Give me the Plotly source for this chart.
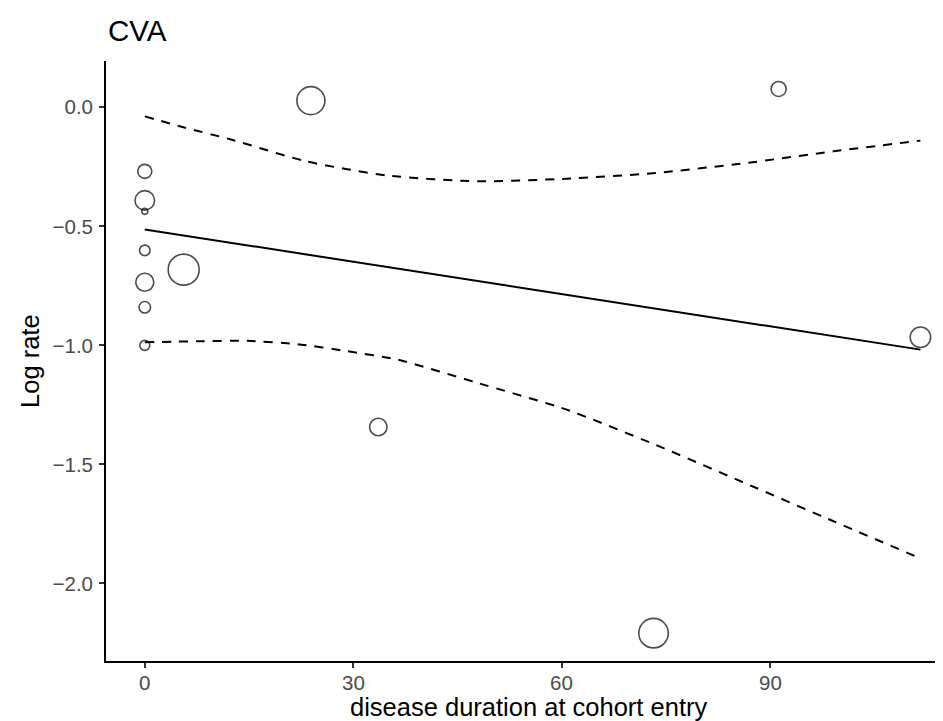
import plotly.graph_objects as go

# ---- data ----
study_duration = [0, 0, 0, 0, 0, 0, 0, 5.6, 23.9, 33.6, 73.2, 91.2, 111.6]
study_log_rate = [-0.269, -0.391, -0.437, -0.601, -0.735, -0.840, -1.000,
                  -0.682, 0.028, -1.343, -2.209, 0.077, -0.966]
study_weight = [14, 19.5, 6, 10.5, 18, 11.5, 10, 31, 28, 17.5, 29.5, 15, 20.5]

fit_x = [0, 111.6]
fit_y = [-0.513, -1.018]

upper_x = [0, 5.7, 12.4, 23.2, 35.0, 47.9, 60.7, 73.5, 86.3, 99.1, 111.6]
upper_y = [-0.038, -0.085, -0.135, -0.227, -0.287, -0.311, -0.300, -0.276,
           -0.235, -0.185, -0.140]

lower_x = [0, 7.6, 14.8, 22.0, 29.2, 36.4, 47.9, 60.7, 73.5, 86.3, 99.1, 111.6]
lower_y = [-0.987, -0.983, -0.981, -0.995, -1.025, -1.060, -1.158, -1.270,
           -1.418, -1.578, -1.739, -1.895]

x_ticks = [0, 30, 60, 90]
x_tick_labels = ["0", "30", "60", "90"]
y_ticks = [0.0, -0.5, -1.0, -1.5, -2.0]
y_tick_labels = ["0.0", "\u22120.5", "\u22121.0", "\u22121.5", "\u22122.0"]

FONT = "Liberation Sans, Arial, Helvetica, sans-serif"
TICK_FONT = dict(family=FONT, size=20.5, color="#4D4D4D")

fig = go.Figure()

fig.add_trace(go.Scatter(
    x=upper_x, y=upper_y, mode="lines",
    line=dict(color="black", width=2, dash="9px,8px", shape="spline", smoothing=0.6),
    hoverinfo="skip", showlegend=False))
fig.add_trace(go.Scatter(
    x=lower_x, y=lower_y, mode="lines",
    line=dict(color="black", width=2, dash="9px,8px", shape="spline", smoothing=0.6),
    hoverinfo="skip", showlegend=False))
fig.add_trace(go.Scatter(
    x=fit_x, y=fit_y, mode="lines",
    line=dict(color="black", width=2),
    showlegend=False))
fig.add_trace(go.Scatter(
    x=study_duration, y=study_log_rate, mode="markers",
    marker=dict(symbol="circle-open", color="black", size=study_weight,
                sizemode="diameter", line=dict(width=1.6, color="black")),
    showlegend=False))

annotations = [
    dict(text="CVA", xref="paper", yref="paper", x=0.0, y=1.05,
         xanchor="left", yanchor="middle", showarrow=False,
         font=dict(family=FONT, size=29.5, color="black")),
    dict(text="disease duration at cohort entry", xref="paper", yref="paper",
         x=0.5, y=-0.077, xanchor="center", yanchor="middle", showarrow=False,
         font=dict(family=FONT, size=25.5, color="black")),
    dict(text="Log rate", xref="paper", yref="paper", x=-0.09, y=0.5,
         xanchor="center", yanchor="middle", textangle=-90, showarrow=False,
         font=dict(family=FONT, size=25.5, color="black")),
]
# x tick labels placed on the x axis scale
for tv, tl in zip(x_ticks, x_tick_labels):
    annotations.append(dict(text=tl, xref="x", yref="paper", x=tv, y=-0.014,
                            xanchor="center", yanchor="top", showarrow=False,
                            font=TICK_FONT))

fig.update_layout(
    width=943, height=721,
    margin=dict(l=98, r=0, t=53, b=68),
    paper_bgcolor="white", plot_bgcolor="white",
    font=dict(family=FONT, color="black"),
    xaxis=dict(
        range=[-5.58, 116.0], tickmode="array", tickvals=x_ticks, ticktext=x_tick_labels,
        showticklabels=False,
        showgrid=False, zeroline=False, showline=True, linecolor="black", linewidth=1.8,
        ticks="outside", ticklen=5, tickwidth=1.5, tickcolor="#333333",
    ),
    yaxis=dict(
        range=[-2.326, 0.1945], tickmode="array", tickvals=y_ticks, ticktext=y_tick_labels,
        showgrid=False, zeroline=False, showline=True, linecolor="black", linewidth=1.8,
        ticks="outside", ticklen=5, tickwidth=1.5, tickcolor="#333333",
        tickfont=TICK_FONT,
        ticklabelstandoff=2,
    ),
    annotations=annotations,
)

fig.write_html("out.html")
